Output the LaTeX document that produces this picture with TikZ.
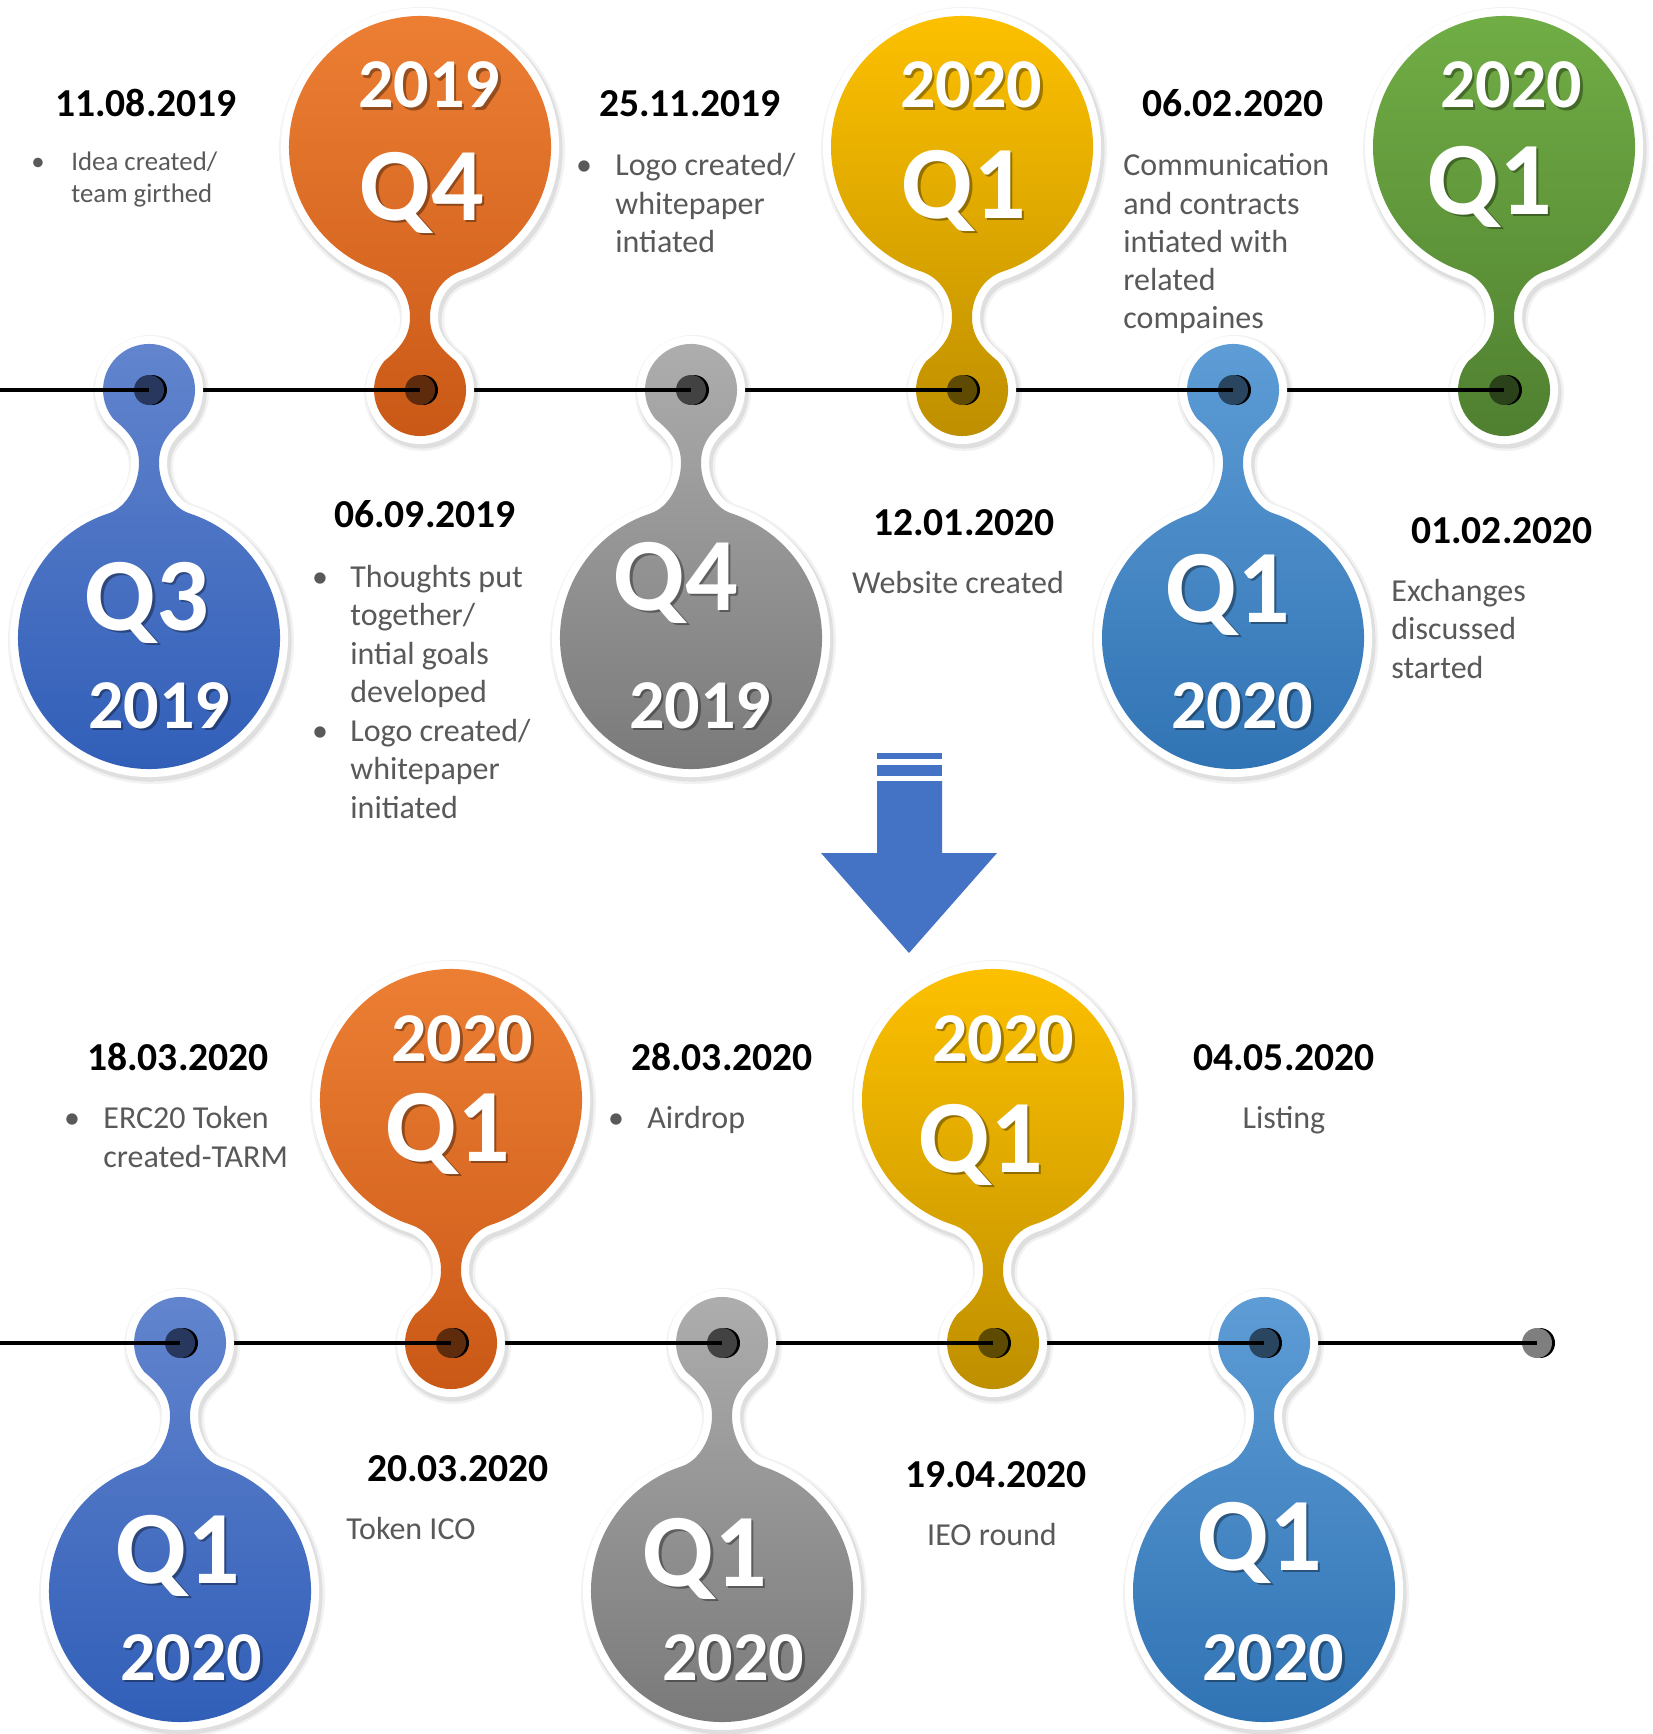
\documentclass[tikz,border=0pt]{standalone}
\usepackage{fontspec}
\setmainfont{Carlito}
\definecolor{txtgray}{HTML}{595959}
\definecolor{arrowblue}{HTML}{4472C4}
\definecolor{blueT}{HTML}{6385CE}\definecolor{blueB}{HTML}{2F5DB7}\definecolor{blueD}{HTML}{27375E}
\definecolor{orangeT}{HTML}{EE8035}\definecolor{orangeM}{HTML}{EA7A2D}\definecolor{orangeB}{HTML}{C95816}\definecolor{orangeD}{HTML}{5E2B0D}
\definecolor{grayT}{HTML}{AEAEAE}\definecolor{grayB}{HTML}{787878}\definecolor{grayD}{HTML}{424242}
\definecolor{yellowT}{HTML}{FFC200}\definecolor{yellowM}{HTML}{F9BC00}\definecolor{yellowB}{HTML}{BD8E00}\definecolor{yellowD}{HTML}{5E4A00}
\definecolor{lblueT}{HTML}{5E9DD6}\definecolor{lblueB}{HTML}{2F72B3}\definecolor{lblueD}{HTML}{2A4560}
\definecolor{greenT}{HTML}{72AF46}\definecolor{greenM}{HTML}{6DA843}\definecolor{greenB}{HTML}{4F7F30}\definecolor{greenD}{HTML}{2A4119}
\definecolor{enddot}{HTML}{7F7F7F}
\tikzset{
  date/.style={font=\bfseries\fontsize{19.8}{23}\selectfont, anchor=base, inner sep=0pt, text=black},
  desc/.style={font=\fontsize{16}{19}\selectfont, anchor=base west, inner sep=0pt, text=txtgray},
  descc/.style={desc, anchor=base},
  smalldesc/.style={font=\fontsize{13.4}{16}\selectfont, anchor=base west, inner sep=0pt, text=txtgray},
  smallbul/.style={smalldesc, anchor=base},
  bigq/.style={font=\bfseries\fontsize{52}{60}\selectfont, anchor=base, inner sep=0pt, text=white},
  yr/.style={font=\bfseries\fontsize{35}{40}\selectfont, anchor=base, inner sep=0pt, text=white},
  tshadow/.style={text=black, opacity=0.35},
  axis/.style={line width=1.9pt, black},
  upshade/.style n args={3}{top color=#1, middle color=#2, bottom color=#3},
  downshade/.style n args={2}{top color=#1, bottom color=#2},
}
% #1 x, #2 y, #3 dir (1 up, -1 down), #4 distance, #5 shading options, #6 dot colour
\newcommand\drawpin[6]{%
  \begin{scope}[shift={(#1,#2)}]
    \def\pinP{(-35.7,{-(#3)*28.9}) arc[start angle={-(#3)*141}, end angle={-(#3)*399}, radius=46]
      .. controls (20.5,{-(#3)*41.6}) and (10,{-(#3)*53}) .. (10,{-(#3)*73})
      .. controls (10,{-(#3)*93}) and (21.5,{-(#3)*(#4-130.8)}) .. (40.5,{-(#3)*(#4-124.6)})
      arc[start angle={(#3)*72}, end angle={-(#3)*252}, radius=131]
      .. controls (-21.5,{-(#3)*(#4-130.8)}) and (-10,{-(#3)*93}) .. (-10,{-(#3)*73})
      .. controls (-10,{-(#3)*53}) and (-20.5,{-(#3)*41.6}) .. (-35.7,{-(#3)*28.9}) -- cycle}
    \path[draw=black, fill=black, line width=12pt, opacity=0.05, xshift=1pt, yshift=-1.5pt] \pinP;
    \path[draw=black, fill=black, line width=9.5pt, opacity=0.08, xshift=1pt, yshift=-1.5pt] \pinP;
    \path[draw=white, fill=white, line width=8pt] \pinP;
    \shade[#5] \pinP;
    \fill[black] (3,0) circle[radius=15];
    \fill[#6] (0,0) circle[radius=15];
  \end{scope}}
% #1 name, #2 x, #3 y, #4 style, #5 text
\newcommand\pintext[5]{%
  \node[#4, tshadow] (#1s) at ({#2+2.5},{#3+2.5}) {#5};
  \node[#4] (#1) at (#2,#3) {#5};}
\begin{document}
\begin{tikzpicture}[x=0.5pt, y=-0.5pt]
\useasboundingbox (0,0) rectangle (1653,1734);
\fill[white] (0,0) rectangle (1653,1734);

% ---------- coordinates of the time lines ----------
\coordinate (a0) at (0,390);
\coordinate (a1) at (149,390);
\coordinate (a2) at (420,390);
\coordinate (a3) at (691,390);
\coordinate (a4) at (962,390);
\coordinate (a5) at (1233,390);
\coordinate (a6) at (1504,390);
\coordinate (b0) at (0,1343);
\coordinate (b1) at (180,1343);
\coordinate (b2) at (451,1343);
\coordinate (b3) at (722,1343);
\coordinate (b4) at (993,1343);
\coordinate (b5) at (1264,1343);
\coordinate (b6) at (1537,1343);

% ---------- top row ----------
\drawpin{1504}{390}{1}{243}{upshade={greenT}{greenM}{greenB}}{greenD}
\draw[axis] (a5) -- (a6);
\drawpin{1233}{390}{-1}{248}{downshade={lblueT}{lblueB}}{lblueD}
\draw[axis] (a4) -- (a5);
\drawpin{962}{390}{1}{243}{upshade={yellowT}{yellowM}{yellowB}}{yellowD}
\draw[axis] (a3) -- (a4);
\drawpin{691}{390}{-1}{248}{downshade={grayT}{grayB}}{grayD}
\draw[axis] (a2) -- (a3);
\drawpin{420}{390}{1}{243}{upshade={orangeT}{orangeM}{orangeB}}{orangeD}
\draw[axis] (a1) -- (a2);
\drawpin{149}{390}{-1}{248}{downshade={blueT}{blueB}}{blueD}
\draw[axis] (a0) -- (a1);

% ---------- bottom row ----------
\fill[black] (1540,1343) circle[radius=15];
\fill[enddot] (b6) circle[radius=15];
\draw[axis] (b5) -- (b6);
\drawpin{1264}{1343}{-1}{248}{downshade={lblueT}{lblueB}}{lblueD}
\draw[axis] (b4) -- (b5);
\drawpin{993}{1343}{1}{243}{upshade={yellowT}{yellowM}{yellowB}}{yellowD}
\draw[axis] (b3) -- (b4);
\drawpin{722}{1343}{-1}{248}{downshade={grayT}{grayB}}{grayD}
\draw[axis] (b2) -- (b3);
\drawpin{451}{1343}{1}{243}{upshade={orangeT}{orangeM}{orangeB}}{orangeD}
\draw[axis] (b1) -- (b2);
\drawpin{180}{1343}{-1}{248}{downshade={blueT}{blueB}}{blueD}
\draw[axis] (b0) -- (b1);

% ---------- block arrow ----------
\fill[arrowblue] (877,753) rectangle (942,759);
\fill[arrowblue] (877,765) rectangle (942,776);
\fill[arrowblue] (877,781) -- (942,781) -- (942,853) -- (997,853) -- (909,953) -- (821,853) -- (877,853) -- cycle;

% ---------- pin labels ----------
\pintext{p1q}{147}{630}{bigq}{Q3}
\pintext{p1y}{159}{728}{yr}{2019}
\pintext{p2y}{429}{108}{yr}{2019}
\pintext{p2q}{422}{220}{bigq}{Q4}
\pintext{p3q}{676}{610}{bigq}{Q4}
\pintext{p3y}{700}{728}{yr}{2019}
\pintext{p4y}{971}{108}{yr}{2020}
\pintext{p4q}{964}{218}{bigq}{Q1}
\pintext{p5q}{1228}{622}{bigq}{Q1}
\pintext{p5y}{1242}{728}{yr}{2020}
\pintext{p6y}{1511}{108}{yr}{2020}
\pintext{p6q}{1490}{214}{bigq}{Q1}
\pintext{q1q}{178}{1583}{bigq}{Q1}
\pintext{q1y}{191}{1680}{yr}{2020}
\pintext{q2y}{462}{1061}{yr}{2020}
\pintext{q2q}{448}{1161}{bigq}{Q1}
\pintext{q3q}{705}{1586}{bigq}{Q1}
\pintext{q3y}{733}{1680}{yr}{2020}
\pintext{q4y}{1003}{1061}{yr}{2020}
\pintext{q4q}{981}{1172}{bigq}{Q1}
\pintext{q5q}{1260}{1570}{bigq}{Q1}
\pintext{q5y}{1273}{1680}{yr}{2020}

% ---------- dates ----------
\node[date] (d1) at (146,117) {11.08.2019};
\node[date] (d2) at (690,117) {25.11.2019};
\node[date] (d3) at (1233,117) {06.02.2020};
\node[date] (d4) at (425,527) {06.09.2019};
\node[date] (d5) at (964,535) {12.01.2020};
\node[date] (d6) at (1502,543) {01.02.2020};
\node[date] (d7) at (178,1070) {18.03.2020};
\node[date] (d8) at (722,1070) {28.03.2020};
\node[date] (d9) at (1284,1070) {04.05.2020};
\node[date] (d10) at (458,1481) {20.03.2020};
\node[date] (d11) at (996,1487) {19.04.2020};

% ---------- descriptions ----------
\node[smallbul] (t1bul) at (38,170) {•};
\node[smalldesc] (t1a) at (71,170) {Idea created/};
\node[smalldesc] (t1b) at (71,202) {team girthed};

\node[descc] (t2bul) at (584,176) {•};
\node[desc] (t2a) at (615,176) {Logo created/};
\node[desc] (t2b) at (615,214) {whitepaper};
\node[desc] (t2c) at (615,252) {intiated};

\node[desc] (t3a) at (1123,176) {Communication};
\node[desc] (t3b) at (1123,214) {and contracts};
\node[desc] (t3c) at (1123,252) {intiated with};
\node[desc] (t3d) at (1123,290) {related};
\node[desc] (t3e) at (1123,328) {compaines};

\node[descc] (t4bul1) at (320,587) {•};
\node[desc] (t4a) at (350,587) {Thoughts put};
\node[desc] (t4b) at (350,625.5) {together/};
\node[desc] (t4c) at (350,664) {intial goals};
\node[desc] (t4d) at (350,702.5) {developed};
\node[descc] (t4bul2) at (320,741) {•};
\node[desc] (t4e) at (350,741) {Logo created/};
\node[desc] (t4f) at (350,779.5) {whitepaper};
\node[desc] (t4g) at (350,818) {initiated};

\node[descc] (t5) at (958,593) {Website created};

\node[desc] (t6a) at (1391,601) {Exchanges};
\node[desc] (t6b) at (1391,639) {discussed};
\node[desc] (t6c) at (1391,678) {started};

\node[descc] (t7bul) at (72,1128) {•};
\node[desc] (t7a) at (103,1128) {ERC20 Token};
\node[desc] (t7b) at (103,1167) {created-TARM};

\node[descc] (t8bul) at (616,1128) {•};
\node[desc] (t8a) at (647,1128) {Airdrop};

\node[descc] (t9) at (1284,1128) {Listing};
\node[desc] (t10) at (346,1539) {Token ICO};
\node[descc] (t11) at (992,1545) {IEO round};
\end{tikzpicture}
\end{document}
